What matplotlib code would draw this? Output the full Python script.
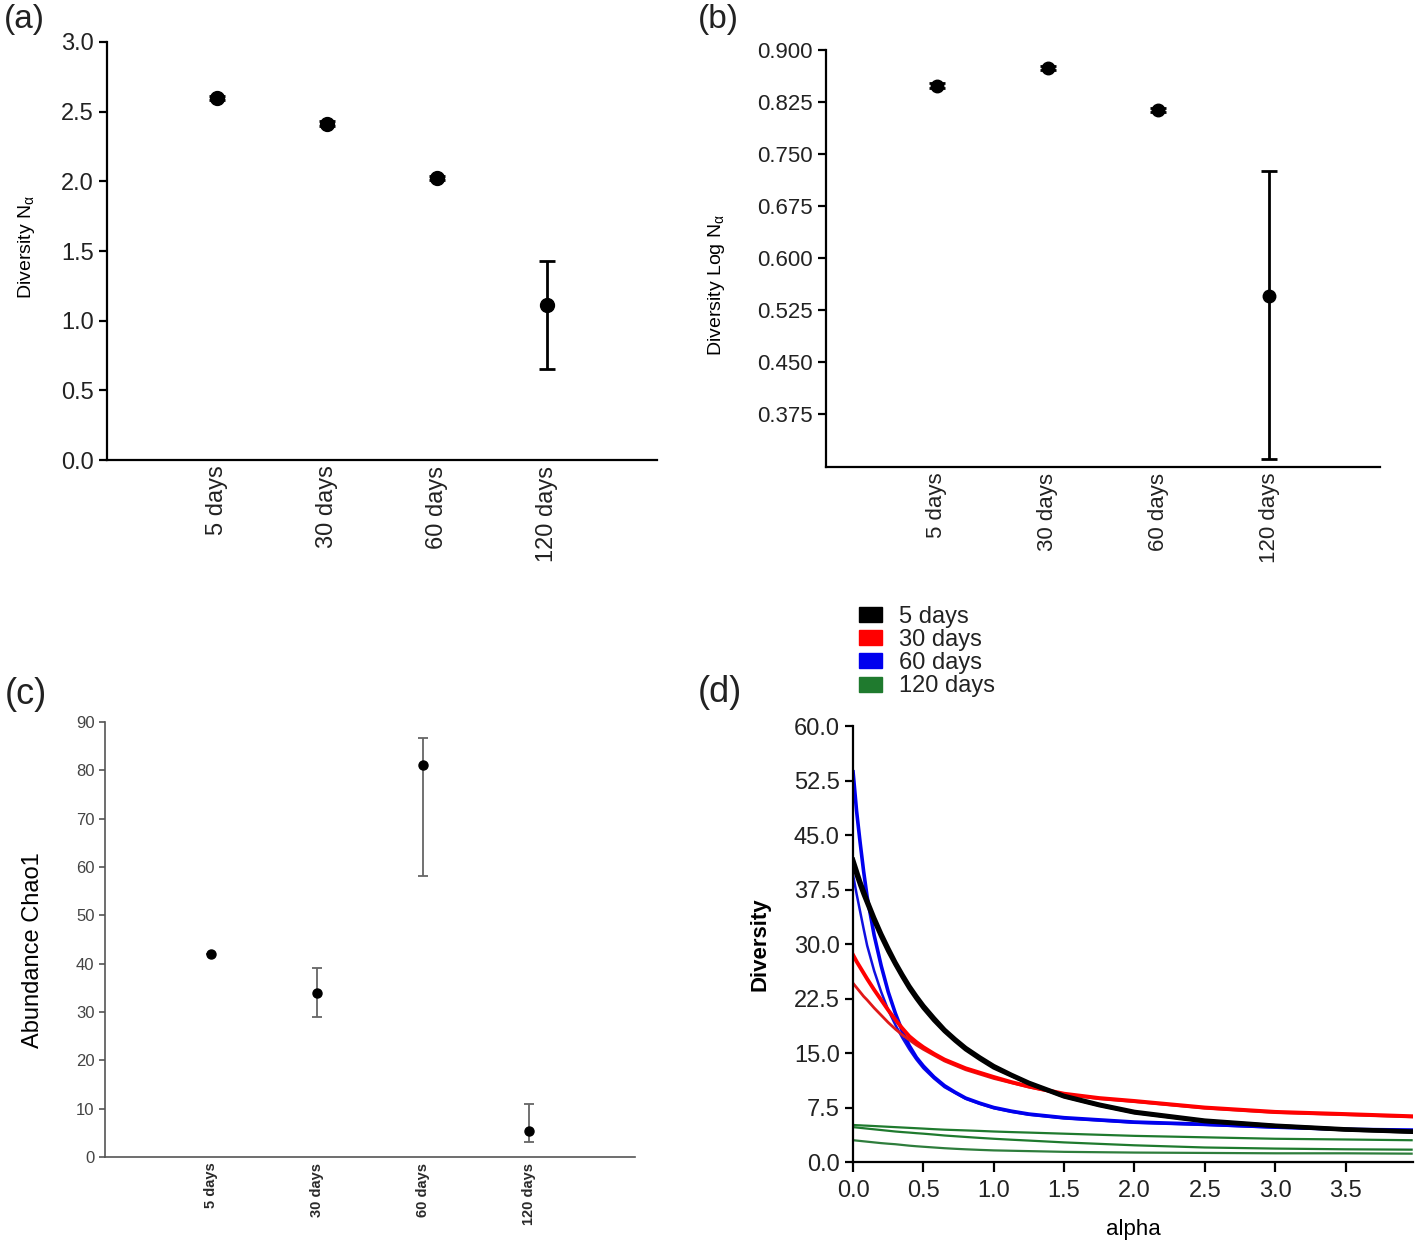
import matplotlib
matplotlib.use('Agg')
import matplotlib.pyplot as plt
from matplotlib.patches import Patch

plt.rcParams['font.family'] = ['Liberation Sans', 'DejaVu Sans']

# ---- data ----
groups = ['5 days', '30 days', '60 days', '120 days']
xpos = [1, 2, 3, 4]

# (a) diversity N_alpha, mean with lower / upper error
na_mean = [2.60, 2.415, 2.025, 1.115]
na_err_lo = [0.015, 0.015, 0.015, 0.46]
na_err_hi = [0.015, 0.015, 0.015, 0.31]

# (b) diversity log N_alpha
logna_mean = [0.8485, 0.874, 0.813, 0.545]
logna_err_lo = [0.004, 0.003, 0.003, 0.234]
logna_err_hi = [0.004, 0.003, 0.003, 0.180]

# (c) abundance Chao1
chao_mean = [42.0, 33.9, 81.2, 5.4]
chao_err_lo = [0.0, 4.9, 23.1, 2.3]
chao_err_hi = [0.0, 5.3, 5.6, 5.5]

# (d) diversity profiles against alpha, one list per replicate
alpha = [0, 0.025, 0.05, 0.075, 0.1, 0.15, 0.2, 0.25, 0.3, 0.35, 0.4, 0.45, 0.5, 0.575,
         0.65, 0.725, 0.8, 0.9, 1.0, 1.125, 1.25, 1.5, 1.75, 2.0, 2.5, 3.0, 3.5, 3.97]
d5_a = [41.6, 40.1, 38.6, 37.3, 36.0, 33.6, 31.4, 29.4, 27.5, 25.8, 24.2, 22.8, 21.5, 19.8,
        18.2, 16.9, 15.7, 14.4, 13.2, 12.0, 10.9, 9.1, 7.9, 6.9, 5.7, 5.0, 4.5, 4.2]
d5_b = [41.0, 39.5, 38.1, 36.8, 35.6, 33.2, 31.0, 29.0, 27.2, 25.5, 23.9, 22.5, 21.2, 19.5,
        18.0, 16.7, 15.5, 14.2, 13.0, 11.9, 10.8, 9.0, 7.8, 6.8, 5.6, 4.95, 4.45, 4.15]
d30_a = [28.5, 27.6, 26.8, 26.0, 25.2, 23.7, 22.3, 20.9, 19.6, 18.4, 17.3, 16.5, 15.8, 14.9,
         14.1, 13.5, 12.9, 12.3, 11.7, 11.0, 10.4, 9.4, 8.8, 8.4, 7.5, 6.9, 6.6, 6.3]
d30_b = [24.6, 24.0, 23.4, 22.8, 22.3, 21.2, 20.2, 19.2, 18.3, 17.5, 16.8, 16.1, 15.5, 14.7,
         13.9, 13.3, 12.7, 12.1, 11.5, 10.9, 10.3, 9.3, 8.7, 8.3, 7.4, 6.8, 6.5, 6.2]
d60_a = [53.7, 48.3, 44.0, 40.0, 36.5, 31.2, 27.0, 23.4, 20.5, 18.0, 16.0, 14.4, 13.2, 11.7,
         10.5, 9.6, 8.8, 8.1, 7.5, 7.0, 6.6, 6.1, 5.8, 5.5, 5.2, 4.8, 4.5, 4.4]
d60_b = [39.5, 36.9, 34.5, 32.1, 29.8, 26.3, 23.4, 20.9, 18.9, 17.1, 15.5, 14.1, 12.9, 11.5,
         10.3, 9.5, 8.7, 8.0, 7.4, 6.9, 6.5, 6.0, 5.7, 5.4, 5.1, 4.75, 4.5, 4.35]
d120_a = [5.1, 5.07, 5.05, 5.02, 5.0, 4.95, 4.9, 4.85, 4.8, 4.75, 4.7, 4.65, 4.6, 4.52,
          4.45, 4.4, 4.35, 4.28, 4.2, 4.12, 4.05, 3.9, 3.75, 3.6, 3.4, 3.2, 3.1, 3.0]
d120_b = [4.8, 4.75, 4.7, 4.65, 4.6, 4.5, 4.4, 4.3, 4.2, 4.12, 4.05, 3.97, 3.9, 3.78,
          3.65, 3.55, 3.45, 3.32, 3.2, 3.07, 2.95, 2.7, 2.5, 2.3, 2.0, 1.85, 1.75, 1.7]
d120_c = [3.0, 2.95, 2.9, 2.85, 2.8, 2.7, 2.6, 2.52, 2.45, 2.35, 2.25, 2.17, 2.1, 2.0,
          1.9, 1.82, 1.75, 1.67, 1.6, 1.55, 1.5, 1.4, 1.35, 1.3, 1.25, 1.2, 1.2, 1.15]

fig = plt.figure(figsize=(14.18, 12.46), dpi=100)


def style_axes(ax, col='black', lw=1.6, size=16):
    # prism-like look: only left/bottom spines, outward ticks
    for s in ['top', 'right']:
        ax.spines[s].set_visible(False)
    for s in ['left', 'bottom']:
        ax.spines[s].set_color(col)
        ax.spines[s].set_linewidth(lw)
    ax.tick_params(axis='y', direction='out', length=6, width=lw, color=col,
                   labelsize=size, labelcolor='#222222')
    ax.tick_params(axis='x', length=0, labelsize=size, labelcolor='#222222', pad=4)


# (a)
ax1 = fig.add_axes([0.0755, 0.6308, 0.3879, 0.3355])
ax1.errorbar(xpos, na_mean, yerr=[na_err_lo, na_err_hi], fmt='o', color='black',
             ms=10, elinewidth=2, capsize=5.5, capthick=2)
ax1.set_xlim(0, 5)
ax1.set_ylim(0, 3.0)
ax1.set_yticks([0, 0.5, 1.0, 1.5, 2.0, 2.5, 3.0])
ax1.yaxis.set_major_formatter(matplotlib.ticker.FormatStrFormatter('%.1f'))
ax1.set_xticks(xpos)
ax1.set_xticklabels(groups, rotation=90)
ax1.set_ylabel('Diversity N$_{\\mathregular{α}}$', fontsize=14)
style_axes(ax1, size=17)
ax1.yaxis.set_label_coords(-0.127, 0.51)

# (b)
ax2 = fig.add_axes([0.5825, 0.6252, 0.3907, 0.3347])
ax2.errorbar(xpos, logna_mean, yerr=[logna_err_lo, logna_err_hi], fmt='o', color='black',
             ms=9, elinewidth=2, capsize=5.5, capthick=2)
ax2.set_xlim(0, 5)
ax2.set_ylim(0.2993, 0.900)
ax2.set_yticks([0.375, 0.450, 0.525, 0.600, 0.675, 0.750, 0.825, 0.900])
ax2.yaxis.set_major_formatter(matplotlib.ticker.FormatStrFormatter('%.3f'))
ax2.set_xticks(xpos)
ax2.set_xticklabels(groups, rotation=90)
ax2.set_ylabel('Diversity Log N$_{\\mathregular{α}}$', fontsize=14)
style_axes(ax2)
ax2.yaxis.set_label_coords(-0.179, 0.436)

# (c)
ax3 = fig.add_axes([0.0740, 0.0714, 0.3738, 0.3491])
ax3.errorbar(xpos, chao_mean, yerr=[chao_err_lo, chao_err_hi], fmt='o', color='black',
             ecolor='#666666', ms=6.5, elinewidth=1.3, capsize=3.5, capthick=1.3)
ax3.set_xlim(0, 5)
ax3.set_ylim(0, 90)
ax3.set_yticks(range(0, 91, 10))
ax3.set_xticks(xpos)
ax3.set_xticklabels(groups, rotation=90)
ax3.set_ylabel('Abundance Chao1', fontsize=17)
style_axes(ax3, col='#555555', lw=1.2, size=12)
ax3.tick_params(axis='y', length=4, labelcolor='#444444')
ax3.tick_params(axis='x', labelsize=10.5, labelcolor='#2a2a2a')
for lab in ax3.get_xticklabels() + ax3.get_yticklabels():
    lab.set_family(['Liberation Sans Narrow', 'Liberation Sans'])
for lab in ax3.get_xticklabels():
    lab.set_fontweight('bold')
ax3.yaxis.set_label_coords(-0.115, 0.476)

# (d)
ax4 = fig.add_axes([0.6016, 0.0674, 0.3949, 0.3499])
ax4.plot(alpha, d120_a, color='#1f7a2e', lw=1.6)
ax4.plot(alpha, d120_b, color='#1f7a2e', lw=1.6)
ax4.plot(alpha, d120_c, color='#2e7d3c', lw=1.6)
ax4.plot(alpha, d60_b, color='#1010e0', lw=1.8)
ax4.plot(alpha, d60_a, color='#0000ee', lw=2.6)
ax4.plot(alpha, d30_b, color='#e01818', lw=2.0)
ax4.plot(alpha, d30_a, color='#ff0000', lw=2.8)
ax4.plot(alpha, d5_b, color='black', lw=3.0)
ax4.plot(alpha, d5_a, color='black', lw=3.2)
ax4.set_xlim(0, 3.98)
ax4.set_ylim(0, 60)
ax4.set_yticks([0, 7.5, 15, 22.5, 30, 37.5, 45, 52.5, 60])
ax4.yaxis.set_major_formatter(matplotlib.ticker.FormatStrFormatter('%.1f'))
ax4.set_xticks([0, 0.5, 1.0, 1.5, 2.0, 2.5, 3.0, 3.5])
ax4.xaxis.set_major_formatter(matplotlib.ticker.FormatStrFormatter('%.1f'))
ax4.set_xlabel('alpha', fontsize=16, labelpad=12)
ax4.set_ylabel('Diversity', fontsize=16, fontweight='bold')
style_axes(ax4, size=17)
ax4.tick_params(axis='x', direction='out', length=7, width=1.6, pad=6)
ax4.yaxis.set_label_coords(-0.148, 0.5)

handles = [Patch(color='black'), Patch(color='#ff0000'), Patch(color='#0000ee'), Patch(color='#1f7a2e')]
fig.legend(handles, groups, loc='upper left', bbox_to_anchor=(0.594, 0.527),
           frameon=False, fontsize=17, handlelength=1.0, handleheight=0.6,
           labelspacing=0.05, handletextpad=0.7, borderpad=0.2, labelcolor='#222222')

# panel letters
fig.text(0.003, 0.984, '(a)', fontsize=24, va='center', color='#222222')
fig.text(0.492, 0.984, '(b)', fontsize=24, va='center', color='#222222')
fig.text(0.003, 0.443, '(c)', fontsize=26, va='center', color='#222222')
fig.text(0.492, 0.444, '(d)', fontsize=26, va='center', color='#222222')

fig.savefig('out.png', dpi=100)
